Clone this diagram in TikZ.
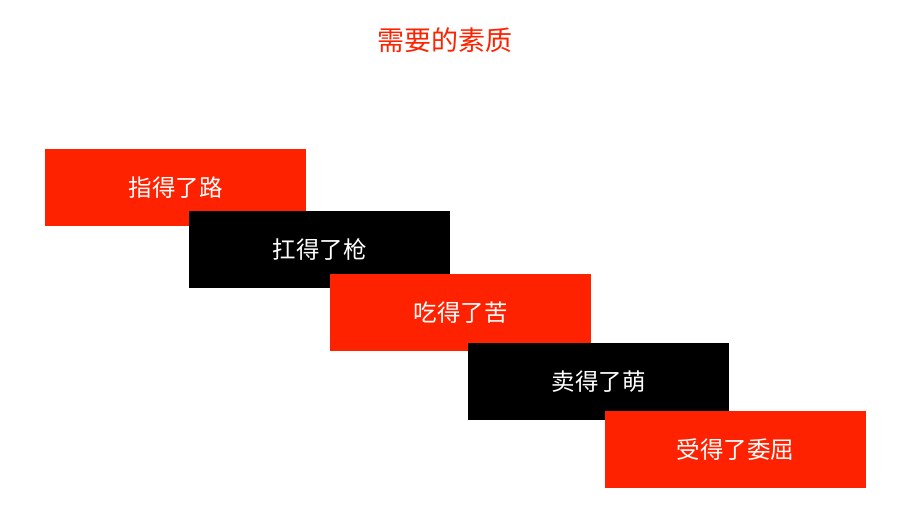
\documentclass[tikz,border=0pt]{standalone}
\usepackage{fontspec}
\newfontfamily\cjk{Noto Sans CJK SC}
\definecolor{qred}{RGB}{255,34,0}

\begin{document}
\begin{tikzpicture}[x=1pt, y=-1pt,
    stepbox/.style={anchor=north west, minimum width=261pt, minimum height=77pt, inner sep=0pt, font=\cjk\fontsize{23.5}{28}\selectfont, text=white},
    redbox/.style={stepbox, fill=qred},
    blackbox/.style={stepbox, fill=black}]
    \useasboundingbox (0,0) rectangle (906,531);
    \node[font=\cjk\fontsize{27}{32}\selectfont, text=qred] (title) at (445,40) {需要的素质};
    \node[redbox]   (road)   at (45,149)  {指得了路};
    \node[blackbox] (gun)    at (189,211) {扛得了枪};
    \node[redbox]   (bitter) at (330,274) {吃得了苦};
    \node[blackbox] (cute)   at (468,343) {卖得了萌};
    \node[redbox]   (wrong)  at (605,411) {受得了委屈};
\end{tikzpicture}
\end{document}
